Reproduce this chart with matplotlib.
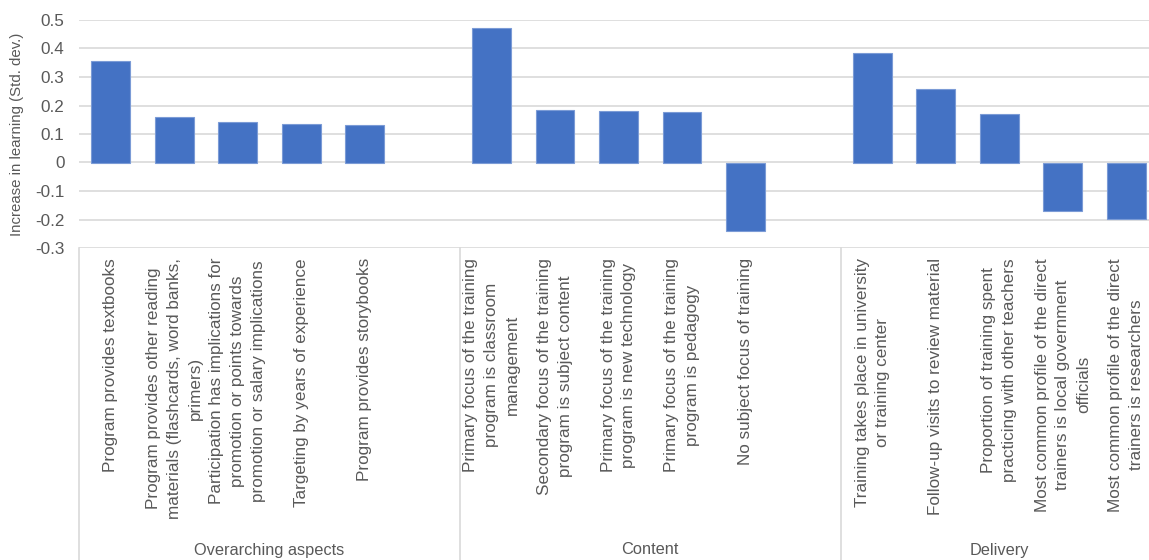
import numpy as np
import matplotlib
matplotlib.use('Agg')
from matplotlib import pyplot as plt

plt.rcParams['font.family'] = ['Liberation Sans', 'DejaVu Sans']

groups = ['Overarching aspects', 'Content', 'Delivery']
labels_over = ['Program provides textbooks',
               'Program provides other reading\nmaterials (flashcards, word banks,\nprimers)',
               'Participation has implications for\npromotion or points towards\npromotion or salary implications',
               'Targeting by years of experience',
               'Program provides storybooks',
               '']
values_over = [0.356, 0.160, 0.142, 0.135, 0.131, np.nan]
labels_content = ['Primary focus of the training\nprogram is classroom\nmanagement',
                  'Secondary focus of the training\nprogram is subject content',
                  'Primary focus of the training\nprogram is new technology',
                  'Primary focus of the training\nprogram is pedagogy',
                  'No subject focus of training',
                  '']
values_content = [0.472, 0.184, 0.180, 0.177, -0.241, np.nan]
labels_delivery = ['Training takes place in university\nor training center',
                   'Follow-up visits to review material',
                   'Proportion of training spent\npracticing with other teachers',
                   'Most common profile of the direct\ntrainers is local government\nofficials',
                   'Most common profile of the direct\ntrainers is researchers']
values_delivery = [0.384, 0.258, 0.170, -0.169, -0.197]

all_labels = labels_over + labels_content + labels_delivery
all_values = values_over + values_content + values_delivery
group_sizes = [len(labels_over), len(labels_content), len(labels_delivery)]
x = np.arange(len(all_labels))

W, H = 1149, 560
fig = plt.figure(figsize=(W / 100, H / 100), dpi=100)
ax = fig.add_axes([79 / W, 1 - 248 / H, (1158 - 79) / W, (248 - 20) / H])

grid_c = '#d9d9d9'
txt_c = '#595959'

for v in np.arange(-0.3, 0.51, 0.1):
    ax.axhline(v, color=grid_c, lw=1.2, zorder=0)

ax.bar(x, all_values, width=0.61, color='#4472C4', edgecolor='#7b9bd6', linewidth=0.8, zorder=2)

ax.set_xlim(-0.5, len(all_labels) - 0.5)
ax.set_ylim(-0.3, 0.5)
ax.set_yticks(np.arange(-0.3, 0.51, 0.1))
ax.set_yticklabels(['-0.3', '-0.2', '-0.1', '0', '0.1', '0.2', '0.3', '0.4', '0.5'])
ax.tick_params(axis='y', length=0, labelsize=12.3, labelcolor=txt_c, pad=10.5)
ax.set_xticks([])
for s in ax.spines.values():
    s.set_visible(False)
ax.set_ylabel('Increase in learning (Std. dev.)', fontsize=10.8, color=txt_c)
ax.yaxis.set_label_coords(-0.051, 0.5)

trans = ax.get_xaxis_transform()
ax_h = 248 - 20
bottom_y = -(H - 248) / ax_h
off = -10 / ax_h

for xi, lab in zip(x, all_labels):
    ax.text(xi, off, lab, transform=trans, rotation=90, ha='center', va='top',
            multialignment='center', fontsize=12.3, color=txt_c, linespacing=1.48)

# box under the plot with group separators
edges = [-0.5]
for n in group_sizes:
    edges.append(edges[-1] + n)
for e in edges[:-1]:
    ax.plot([e, e], [0, bottom_y], transform=trans, color=grid_c, lw=1.2, clip_on=False)
for i, g in enumerate(groups):
    ax.text((edges[i] + edges[i + 1]) / 2, bottom_y + 10 / ax_h, g, transform=trans,
            ha='center', va='center', fontsize=11.8, color=txt_c)

fig.savefig('out.png', dpi=100)
